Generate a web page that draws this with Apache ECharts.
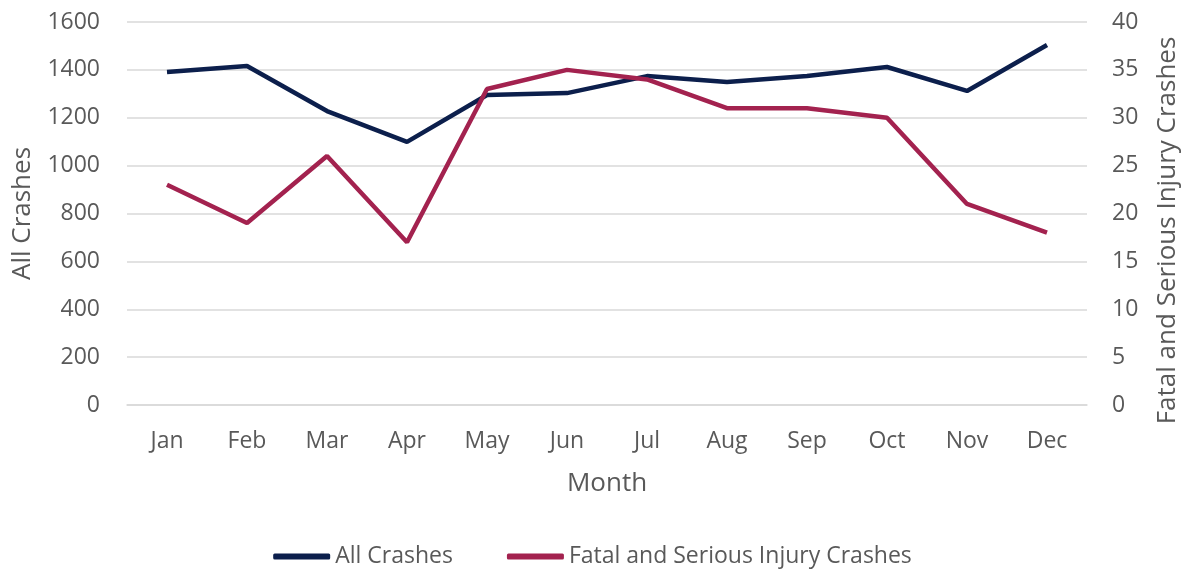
<!DOCTYPE html>
<html>
<head>
<meta charset="utf-8">
<script src="https://cdn.jsdelivr.net/npm/echarts@6/dist/echarts.min.js"></script>
<style>
html, body {margin: 0; padding: 0; background: #fff;}
#chart {width: 1185px; height: 571px;}
</style>
</head>
<body>
<div id="chart"></div>
<script>
var months = ['Jan','Feb','Mar','Apr','May','Jun','Jul','Aug','Sep','Oct','Nov','Dec'];
var allCrashes = [1391,1416,1228,1099,1295,1303,1374,1349,1374,1412,1312,1504];
var fatalSerious = [23,19,26,17,33,35,34,31,31,30,21,18];

var txt = '#595959';
var font = '"Open Sans", sans-serif';

function plainfmt(value) {
    return String(value);
};

var chart = echarts.init(document.getElementById('chart'));
var opt = {
    textStyle: {fontFamily: font},
    grid: {left: 127, right: 98, top: 22, bottom: 166, outerBoundsMode: 'none', containLabel: false},
    legend: {
        bottom: -2,
        left: 'center',
        itemWidth: 57,
        itemHeight: 6,
        itemGap: 54,
        icon: 'roundRect',
        textStyle: {color: txt, fontSize: 23, fontFamily: font},
        data: ['All Crashes', 'Fatal and Serious Injury Crashes']
    },
    xAxis: {
        type: 'category',
        data: months,
        name: 'Month',
        nameLocation: 'middle',
        nameGap: 66,
        nameTextStyle: {color: txt, fontSize: 26},
        axisLine: {show: true, lineStyle: {color: '#d9d9d9', width: 1.5}},
        axisTick: {show: false},
        axisLabel: {color: txt, fontSize: 23, margin: 25}
    },
    yAxis: [{
        type: 'value',
        min: 0, max: 1600, interval: 200,
        name: 'All Crashes',
        nameLocation: 'middle',
        nameGap: 91,
        nameTextStyle: {color: txt, fontSize: 26},
        axisLabel: {color: txt, fontSize: 23, margin: 27, formatter: plainfmt},
        splitLine: {lineStyle: {color: '#d9d9d9', width: 1.5}}
    }, {
        type: 'value',
        min: 0, max: 40, interval: 5,
        name: 'Fatal and Serious Injury Crashes',
        nameLocation: 'middle',
        nameGap: 68,
        nameRotate: 90,
        nameTextStyle: {color: txt, fontSize: 26, padding: [0, 34, 0, 0]},
        axisLabel: {color: txt, fontSize: 23, margin: 25, formatter: plainfmt},
        splitLine: {show: false}
    }],
    series: [{
        name: 'All Crashes',
        type: 'line',
        data: allCrashes,
        yAxisIndex: 0,
        symbol: 'none',
        lineStyle: {color: '#0c1f4c', width: 4.5},
        itemStyle: {color: '#0c1f4c'}
    }, {
        name: 'Fatal and Serious Injury Crashes',
        type: 'line',
        data: fatalSerious,
        yAxisIndex: 1,
        symbol: 'none',
        lineStyle: {color: '#a3224f', width: 4.5},
        itemStyle: {color: '#a3224f'}
    }]
};
chart.setOption(opt);
</script>
</body>
</html>
